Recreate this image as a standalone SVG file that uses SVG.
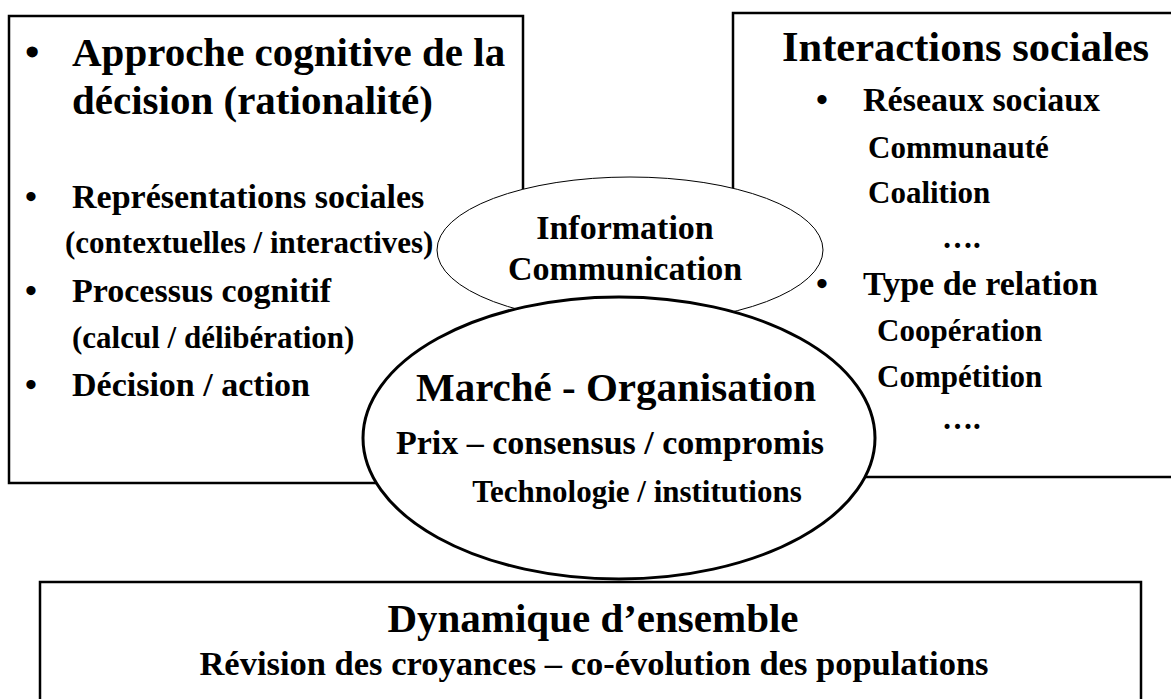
<svg xmlns="http://www.w3.org/2000/svg" width="1171" height="699" viewBox="0 0 1171 699">
<style>
  .box { fill: #ffffff; stroke: #000000; stroke-width: 2.5; }
  .info { fill: #ffffff; stroke: #000000; stroke-width: 1; }
  .market { fill: #ffffff; stroke: #000000; stroke-width: 3; }
  text { font-family: "Liberation Serif", "Times New Roman", serif; font-weight: bold; fill: #000000; }
  .h { font-size: 41px; }
  .m { font-size: 34px; }
  .s { font-size: 31px; }
  .c { text-anchor: middle; }
</style>
<rect x="0" y="0" width="1171" height="699" fill="#ffffff"/>
<g id="connectors"></g>
<g id="left-box">
  <rect class="box" x="9" y="16" width="514" height="467"/>
  <text class="h" x="25" y="66">•</text>
  <text class="h" x="72" y="66">Approche cognitive de la</text>
  <text class="h" x="72" y="114">décision (rationalité)</text>
  <text class="m" x="25" y="208">•</text>
  <text class="m" x="72" y="208">Représentations sociales</text>
  <text class="s" x="65" y="253">(contextuelles / interactives)</text>
  <text class="m" x="25" y="302">•</text>
  <text class="m" x="72" y="302">Processus cognitif</text>
  <text class="s" x="72" y="348">(calcul / délibération)</text>
  <text class="m" x="25" y="396">•</text>
  <text class="m" x="72" y="396">Décision / action</text>
</g>
<g id="right-box">
  <rect class="box" x="733" y="13" width="460" height="464"/>
  <text class="h" x="782" y="61" style="font-size:42.5px">Interactions sociales</text>
  <text class="m" x="816" y="111">•</text>
  <text class="m" x="863" y="111">Réseaux sociaux</text>
  <text class="s" x="868" y="158">Communauté</text>
  <text class="s" x="868" y="203">Coalition</text>
  <text class="s" x="942" y="248">….</text>
  <text class="m" x="816" y="295">•</text>
  <text class="m" x="863" y="295">Type de relation</text>
  <text class="s" x="877" y="341">Coopération</text>
  <text class="s" x="877" y="387">Compétition</text>
  <text class="s" x="942" y="429">….</text>
</g>
<g id="bottom-box">
  <rect class="box" x="40" y="582" width="1101" height="140"/>
  <text class="h c" x="593" y="632">Dynamique d’ensemble</text>
  <text class="m c" x="594" y="675" style="font-size:34.5px">Révision des croyances – co-évolution des populations</text>
</g>
<g id="information">
  <ellipse class="info" cx="630" cy="250" rx="193" ry="73"/>
  <text class="m c" x="625" y="239">Information</text>
  <text class="m c" x="625" y="280">Communication</text>
</g>
<g id="marche-organisation">
  <ellipse class="market" cx="619" cy="438" rx="256" ry="141"/>
  <text class="h c" x="616" y="401">Marché - Organisation</text>
  <text class="m c" x="610" y="454">Prix – consensus / compromis</text>
  <text class="s c" x="637" y="502">Technologie / institutions</text>
</g>
</svg>
